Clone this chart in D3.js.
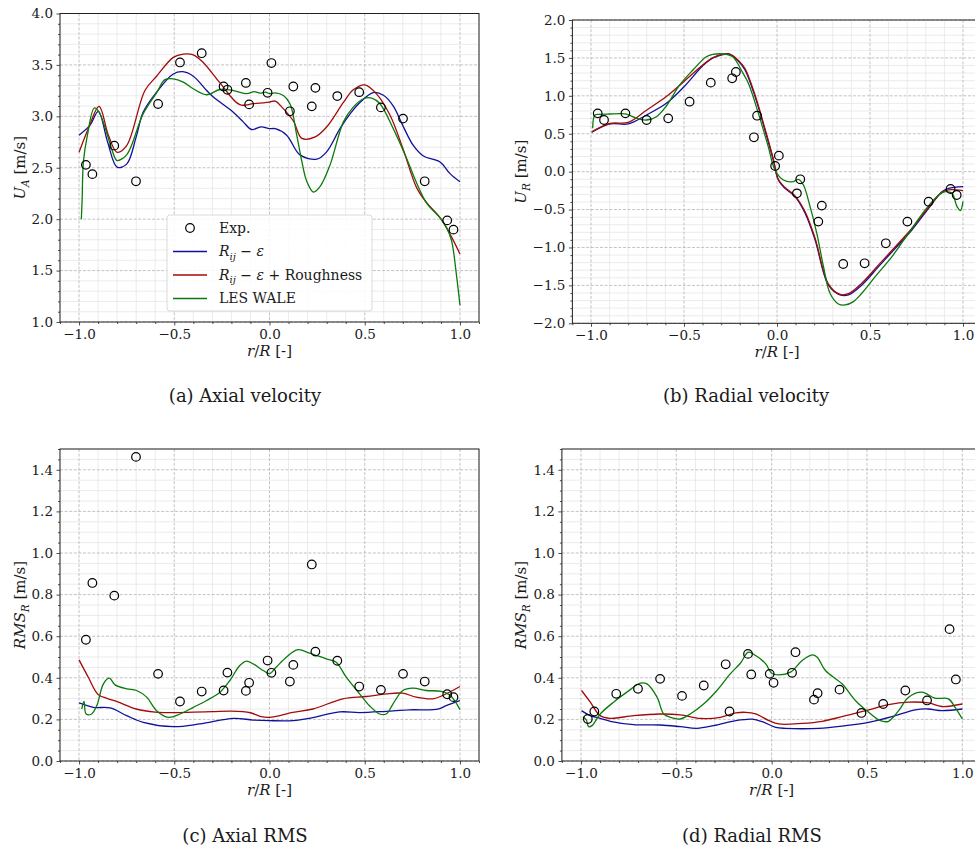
<!DOCTYPE html>
<html><head><meta charset="utf-8">
<script src="https://cdn.jsdelivr.net/npm/d3@7"></script>
<style>
body{margin:0;background:#fff}
svg{display:block}
text{font-family:"DejaVu Serif",serif;fill:#1a1a1a}
</style>
</head><body>
<svg id="chart" width="975" height="849"></svg>
<script>
// ---------- DATA ----------
const xTicks = [-1.0, -0.5, 0.0, 0.5, 1.0];
const yTicksA = [1.0, 1.5, 2.0, 2.5, 3.0, 3.5, 4.0];
const yTicksB = [-2.0, -1.5, -1.0, -0.5, 0.0, 0.5, 1.0, 1.5, 2.0];
const yTicksRMS = [0.0, 0.2, 0.4, 0.6, 0.8, 1.0, 1.2, 1.4];

const seriesNames = ["Exp.", "R_ij − ε", "R_ij − ε + Roughness", "LES WALE"];
const captions = ["(a) Axial velocity", "(b) Radial velocity", "(c) Axial RMS", "(d) Radial RMS"];

// experimental measurement positions r/R
const expR = [-0.964, -0.930, -0.815, -0.701, -0.585, -0.470, -0.356, -0.241, -0.221, -0.124, -0.107, -0.010,
              0.010, 0.107, 0.125, 0.222, 0.241, 0.356, 0.471, 0.585, 0.701, 0.815, 0.933, 0.966];

const expA = [2.528, 2.438, 2.715, 2.368, 3.12, 3.524, 3.614, 3.29, 3.258, 3.325, 3.116, 3.229,
              3.518, 3.049, 3.29, 3.097, 3.277, 3.197, 3.235, 3.087, 2.978, 2.368, 1.988, 1.898];
const expB = [0.769, 0.681, 0.769, 0.681, 0.703, 0.923, 1.174, 1.231, 1.314, 0.453, 0.738, 0.075,
              0.211, -0.286, -0.101, -0.659, -0.448, -1.218, -1.209, -0.945, -0.659, -0.396, -0.229, -0.308];
const expC = [0.583, 0.856, 0.795, 1.462, 0.419, 0.286, 0.334, 0.339, 0.425, 0.337, 0.376, 0.483,
              0.424, 0.382, 0.462, 0.945, 0.526, 0.482, 0.358, 0.342, 0.419, 0.382, 0.321, 0.307];
const expD = [0.202, 0.238, 0.323, 0.347, 0.395, 0.313, 0.363, 0.465, 0.238, 0.515, 0.416, 0.419,
              0.376, 0.424, 0.523, 0.295, 0.326, 0.343, 0.231, 0.274, 0.339, 0.291, 0.634, 0.392];

// (a) axial velocity
const aRans = [[-1.0,2.817],[-0.942,2.914],[-0.899,3.049],[-0.85,2.75],[-0.80,2.506],[-0.75,2.535],[-0.70,2.80],
  [-0.663,3.042],[-0.593,3.235],[-0.505,3.412],[-0.456,3.434],[-0.40,3.39],[-0.33,3.251],[-0.295,3.187],[-0.19,3.04],
  [-0.138,2.946],[-0.094,2.872],[-0.042,2.898],[0,2.88],[0.03,2.88],[0.09,2.817],[0.16,2.625],[0.248,2.583],[0.30,2.655],
  [0.37,2.88],[0.43,3.04],[0.475,3.135],[0.545,3.231],[0.598,3.205],[0.65,3.10],[0.70,2.91],[0.755,2.717],[0.808,2.614],
  [0.895,2.556],[0.948,2.443],[1.0,2.363]];
const aRough = [[-1.0,2.65],[-0.951,2.882],[-0.895,3.097],[-0.846,2.817],[-0.80,2.65],[-0.75,2.715],[-0.654,3.251],
  [-0.593,3.39],[-0.505,3.573],[-0.453,3.605],[-0.40,3.598],[-0.348,3.524],[-0.26,3.325],[-0.156,3.113],[-0.086,3.123],
  [0,3.139],[0.03,3.148],[0.07,3.08],[0.126,2.952],[0.17,2.785],[0.24,2.80],[0.30,2.896],[0.388,3.135],[0.44,3.258],
  [0.50,3.306],[0.563,3.216],[0.633,3.01],[0.70,2.689],[0.773,2.304],[0.825,2.16],[0.895,2.015],[0.948,1.855],[1.0,1.662]];
const aLes = [[-0.988,2.0],[-0.984,2.175],[-0.977,2.56],[-0.956,2.817],[-0.92,3.081],[-0.895,3.042],[-0.811,2.593],
  [-0.80,2.57],[-0.75,2.625],[-0.663,3.026],[-0.593,3.229],[-0.549,3.357],[-0.505,3.364],[-0.453,3.332],[-0.40,3.268],
  [-0.33,3.21],[-0.26,3.261],[-0.19,3.251],[-0.12,3.22],[-0.08,3.24],[-0.05,3.225],[-0.02,3.235],[0,3.22],[0.03,3.229],
  [0.073,3.203],[0.108,3.12],[0.143,2.817],[0.17,2.56],[0.196,2.367],[0.231,2.264],[0.266,2.319],[0.318,2.528],
  [0.388,2.946],[0.44,3.09],[0.493,3.171],[0.537,3.177],[0.58,3.122],[0.65,2.88],[0.72,2.59],[0.773,2.35],[0.825,2.157],
  [0.895,2.015],[0.93,1.918],[0.956,1.79],[0.983,1.436],[1.0,1.163]];

// (b) radial velocity
const bRans = [[-0.996,0.519],[-0.898,0.629],[-0.80,0.629],[-0.702,0.747],[-0.595,0.901],[-0.5,1.12],[-0.398,1.40],
  [-0.345,1.50],[-0.291,1.545],[-0.26,1.55],[-0.238,1.525],[-0.205,1.45],[-0.172,1.341],[-0.118,0.989],[-0.065,0.549],
  [-0.02,0.154],[0.007,-0.11],[0.043,-0.22],[0.097,-0.33],[0.151,-0.549],[0.205,-0.901],[0.276,-1.495],[0.339,-1.626],
  [0.384,-1.626],[0.456,-1.495],[0.546,-1.253],[0.636,-1.011],[0.725,-0.769],[0.815,-0.484],[0.887,-0.264],[0.923,-0.22],
  [1.0,-0.198]];
const bRough = [[-0.996,0.525],[-0.898,0.635],[-0.80,0.65],[-0.702,0.81],[-0.595,0.99],[-0.5,1.19],[-0.398,1.41],
  [-0.345,1.50],[-0.291,1.55],[-0.26,1.555],[-0.238,1.53],[-0.205,1.46],[-0.172,1.36],[-0.118,1.01],[-0.065,0.57],
  [-0.02,0.17],[0.007,-0.10],[0.043,-0.21],[0.097,-0.32],[0.151,-0.53],[0.205,-0.88],[0.276,-1.48],[0.339,-1.62],
  [0.384,-1.61],[0.456,-1.47],[0.546,-1.23],[0.636,-0.99],[0.725,-0.75],[0.815,-0.47],[0.887,-0.27],[0.923,-0.24],
  [1.0,-0.25]];
const bLes = [[-0.991,0.571],[-0.979,0.747],[-0.952,0.756],[-0.898,0.76],[-0.845,0.765],[-0.809,0.76],[-0.755,0.703],
  [-0.702,0.681],[-0.648,0.725],[-0.595,0.866],[-0.523,1.143],[-0.452,1.341],[-0.38,1.516],[-0.345,1.547],[-0.273,1.547],
  [-0.238,1.516],[-0.205,1.40],[-0.19,1.33],[-0.154,1.165],[-0.1,0.769],[-0.047,0.33],[-0.011,0.022],[0.034,-0.11],
  [0.088,-0.132],[0.115,-0.101],[0.142,-0.176],[0.178,-0.462],[0.214,-0.813],[0.25,-1.253],[0.285,-1.604],[0.33,-1.745],
  [0.366,-1.758],[0.411,-1.714],[0.456,-1.604],[0.528,-1.385],[0.618,-1.121],[0.707,-0.813],[0.797,-0.505],[0.869,-0.308],
  [0.905,-0.264],[0.941,-0.286],[0.968,-0.462],[0.986,-0.514],[1.0,-0.396]];

// (c) axial RMS
const cRans = [[-1.0,0.279],[-0.925,0.258],[-0.837,0.255],[-0.75,0.218],[-0.663,0.186],[-0.505,0.165],[-0.365,0.178],
  [-0.19,0.205],[-0.086,0.197],[0,0.194],[0.123,0.194],[0.21,0.205],[0.368,0.236],[0.473,0.233],[0.613,0.239],
  [0.735,0.246],[0.884,0.249],[0.928,0.266],[1.0,0.29]];
const cRough = [[-1.0,0.486],[-0.95,0.40],[-0.9,0.32],[-0.85,0.30],[-0.8,0.285],[-0.7,0.25],[-0.6,0.235],[-0.5,0.233],
  [-0.4,0.235],[-0.3,0.237],[-0.2,0.24],[-0.1,0.232],[-0.05,0.215],[0,0.21],[0.123,0.234],[0.228,0.25],[0.385,0.299],
  [0.508,0.31],[0.613,0.323],[0.70,0.326],[0.77,0.307],[0.858,0.299],[0.91,0.315],[1.0,0.358]];
const cLes = [[-0.986,0.25],[-0.974,0.287],[-0.963,0.226],[-0.934,0.226],[-0.907,0.266],[-0.872,0.371],[-0.841,0.398],
  [-0.811,0.366],[-0.75,0.347],[-0.698,0.339],[-0.645,0.307],[-0.593,0.242],[-0.531,0.21],[-0.47,0.226],[-0.40,0.258],
  [-0.33,0.291],[-0.26,0.331],[-0.208,0.387],[-0.156,0.459],[-0.121,0.48],[-0.086,0.467],[-0.033,0.435],[0,0.42],
  [0.035,0.451],[0.088,0.499],[0.149,0.535],[0.21,0.519],[0.298,0.491],[0.35,0.475],[0.403,0.403],[0.473,0.323],
  [0.525,0.266],[0.578,0.226],[0.613,0.226],[0.648,0.274],[0.70,0.339],[0.753,0.35],[0.823,0.339],[0.902,0.335],
  [0.946,0.318],[0.972,0.29],[1.0,0.247]];

// (d) radial RMS
const dRans = [[-0.997,0.242],[-0.951,0.218],[-0.899,0.205],[-0.846,0.191],[-0.724,0.175],[-0.584,0.173],[-0.479,0.165],
  [-0.392,0.157],[-0.304,0.17],[-0.188,0.194],[-0.101,0.201],[-0.049,0.189],[0.021,0.162],[0.073,0.157],[0.247,0.157],
  [0.387,0.17],[0.509,0.186],[0.631,0.213],[0.753,0.246],[0.822,0.25],[0.892,0.242],[1.0,0.25]];
const dRough = [[-0.997,0.339],[-0.951,0.283],[-0.899,0.218],[-0.846,0.205],[-0.724,0.218],[-0.584,0.226],[-0.479,0.222],
  [-0.374,0.205],[-0.269,0.21],[-0.188,0.231],[-0.136,0.234],[-0.084,0.226],[-0.014,0.194],[0.038,0.178],[0.16,0.181],
  [0.265,0.191],[0.369,0.213],[0.509,0.246],[0.613,0.271],[0.718,0.283],[0.822,0.279],[0.892,0.262],[1.0,0.274]];
const dLes = [[-0.99,0.213],[-0.972,0.197],[-0.96,0.165],[-0.942,0.17],[-0.899,0.226],[-0.829,0.283],[-0.759,0.331],
  [-0.689,0.374],[-0.654,0.371],[-0.601,0.307],[-0.566,0.226],[-0.531,0.21],[-0.479,0.202],[-0.427,0.226],[-0.357,0.274],
  [-0.287,0.339],[-0.217,0.419],[-0.164,0.47],[-0.122,0.523],[-0.084,0.507],[-0.031,0.467],[0,0.422],[0.038,0.414],
  [0.099,0.427],[0.16,0.483],[0.213,0.51],[0.239,0.499],[0.282,0.435],[0.369,0.371],[0.439,0.291],[0.509,0.234],
  [0.57,0.194],[0.613,0.191],[0.666,0.242],[0.718,0.307],[0.787,0.331],[0.857,0.302],[0.927,0.299],[0.962,0.258],
  [1.0,0.202]];

// ---------- DRAWING ----------
const colors = {rans: "#10109a", rough: "#a30a0a", les: "#0a7a0a"};
const svg = d3.select("#chart");
svg.append("rect").attr("width", 975).attr("height", 849).attr("fill", "#fff");
const fmt = d3.format(".1f");

const panels = [
  {id:"a", l:60, r:479, t:13.5, b:322, yDom:[1,4], yTicks:yTicksA, yMinorStep:0.1,
   exp:expA, rans:aRans, rough:aRough, les:aLes, ylab:["U","A"], ylx:20, cap:captions[0], capx:245, capy:402, legend:true},
  {id:"b", l:572.4, r:981.6, t:20, b:323.3, yDom:[-2,2], yTicks:yTicksB, yMinorStep:0.1,
   exp:expB, rans:bRans, rough:bRough, les:bLes, ylab:["U","R"], ylx:521, cap:captions[1], capx:746, capy:402},
  {id:"c", l:60, r:479, t:449, b:761, yDom:[0,1.5], yTicks:yTicksRMS, yMinorStep:0.05,
   exp:expC, rans:cRans, rough:cRough, les:cLes, ylab:["RMS","R"], ylx:20, cap:captions[2], capx:245, capy:842},
  {id:"d", l:561.9, r:981.4, t:449, b:761, yDom:[0,1.5], yTicks:yTicksRMS, yMinorStep:0.05,
   exp:expD, rans:dRans, rough:dRough, les:dLes, ylab:["RMS","R"], ylx:521, cap:captions[3], capx:752, capy:842}
];

function minorVals(lo, hi, step, majors) {
  const n = Math.round((hi - lo) / step);
  const out = [];
  for (let i = 0; i <= n; i++) {
    const v = +(lo + i * step).toFixed(4);
    if (!majors.some(m => Math.abs(m - v) < 1e-6)) out.push(v);
  }
  return out;
}

panels.forEach(p => {
  const g = svg.append("g");
  const x = d3.scaleLinear().domain([-1.1, 1.1]).range([p.l, p.r]);
  const y = d3.scaleLinear().domain(p.yDom).range([p.b, p.t]);
  const xMinor = minorVals(-1.1, 1.1, 0.1, xTicks);
  const yMinor = minorVals(p.yDom[0], p.yDom[1], p.yMinorStep, p.yTicks);

  g.append("clipPath").attr("id", "clip" + p.id).append("rect")
    .attr("x", p.l).attr("y", p.t).attr("width", p.r - p.l).attr("height", p.b - p.t);

  // minor grid
  const grid = g.append("g");
  grid.selectAll(".mx").data(xMinor).join("line")
    .attr("x1", d => x(d)).attr("x2", d => x(d)).attr("y1", p.t).attr("y2", p.b)
    .attr("stroke", "#e6e6e6").attr("stroke-width", 0.8);
  grid.selectAll(".my").data(yMinor).join("line")
    .attr("x1", p.l).attr("x2", p.r).attr("y1", d => y(d)).attr("y2", d => y(d))
    .attr("stroke", "#e6e6e6").attr("stroke-width", 0.8);
  // major grid
  grid.selectAll(".Mx").data(xTicks).join("line")
    .attr("x1", d => x(d)).attr("x2", d => x(d)).attr("y1", p.t).attr("y2", p.b)
    .attr("stroke", "#b4b4b4").attr("stroke-width", 0.8).attr("stroke-dasharray", "3,1.6");
  grid.selectAll(".My").data(p.yTicks).join("line")
    .attr("x1", p.l).attr("x2", p.r).attr("y1", d => y(d)).attr("y2", d => y(d))
    .attr("stroke", "#b4b4b4").attr("stroke-width", 0.8).attr("stroke-dasharray", "3,1.6");

  // lines
  const line = d3.line().x(d => x(d[0])).y(d => y(d[1])).curve(d3.curveCatmullRom.alpha(0.5));
  const lg = g.append("g").attr("clip-path", `url(#clip${p.id})`);
  [["rans", colors.rans], ["rough", colors.rough], ["les", colors.les]].forEach(([k, c]) => {
    lg.append("path").datum(p[k]).attr("d", line).attr("fill", "none")
      .attr("stroke", c).attr("stroke-width", 1.3);
  });
  // experimental points
  lg.selectAll("circle").data(expR.map((r, i) => [r, p.exp[i]])).join("circle")
    .attr("cx", d => x(d[0])).attr("cy", d => y(d[1])).attr("r", 4.3)
    .attr("fill", "none").attr("stroke", "#000").attr("stroke-width", 1.2);

  // axes
  const ax = g.append("g").attr("transform", `translate(0,${p.b})`)
    .call(d3.axisBottom(x).tickValues(xTicks).tickFormat(fmt).tickSize(3.5).tickPadding(3.5));
  const axm = g.append("g").attr("transform", `translate(0,${p.b})`)
    .call(d3.axisBottom(x).tickValues(xMinor).tickFormat("").tickSize(2));
  const ay = g.append("g").attr("transform", `translate(${p.l},0)`)
    .call(d3.axisLeft(y).tickValues(p.yTicks).tickFormat(fmt).tickSize(3.5).tickPadding(3.5));
  const aym = g.append("g").attr("transform", `translate(${p.l},0)`)
    .call(d3.axisLeft(y).tickValues(yMinor).tickFormat("").tickSize(2));
  [ax, axm, ay, aym].forEach(a => {
    a.select(".domain").remove();
    a.selectAll("line").attr("stroke", "#222").attr("stroke-width", 0.8);
    a.selectAll("text").attr("font-family", "DejaVu Serif").attr("font-size", 13.5).attr("fill", "#1a1a1a");
  });

  // spines
  g.append("rect").attr("x", p.l).attr("y", p.t).attr("width", p.r - p.l).attr("height", p.b - p.t)
    .attr("fill", "none").attr("stroke", "#222").attr("stroke-width", 1);

  // x label
  const xl = g.append("text").attr("x", (p.l + Math.min(p.r, 975 + (p.r - 975)) ) / 2 + (p.id === "b" || p.id === "d" ? 0 : 0))
    .attr("x", x(0)).attr("y", p.b + 34).attr("text-anchor", "middle").attr("font-size", 15);
  xl.append("tspan").attr("font-style", "italic").text("r");
  xl.append("tspan").text("/");
  xl.append("tspan").attr("font-style", "italic").text("R");
  xl.append("tspan").text(" [-]");

  // y label
  const yc = (p.t + p.b) / 2;
  const yl = g.append("text").attr("transform", `translate(${p.ylx},${yc}) rotate(-90)`)
    .attr("text-anchor", "middle").attr("dy", "0.35em").attr("font-size", 15);
  yl.append("tspan").attr("font-style", "italic").text(p.ylab[0]);
  yl.append("tspan").attr("font-style", "italic").attr("font-size", 10.5).attr("dy", 4).text(p.ylab[1]);
  yl.append("tspan").attr("dy", -4).text(" [m/s]");

  // caption
  svg.append("text").attr("x", p.capx).attr("y", p.capy).attr("text-anchor", "middle")
    .attr("font-size", 18).text(p.cap);

  // legend
  if (p.legend) {
    const lgd = g.append("g");
    lgd.append("rect").attr("x", 167).attr("y", 215).attr("width", 205).attr("height", 96).attr("rx", 3)
      .attr("fill", "#fff").attr("fill-opacity", 0.85).attr("stroke", "#d0d0d0").attr("stroke-width", 0.8);
    const rowsY = [228, 251.5, 275, 298.5];
    lgd.append("circle").attr("cx", 190).attr("cy", rowsY[0]).attr("r", 4.3)
      .attr("fill", "none").attr("stroke", "#000").attr("stroke-width", 1.2);
    [colors.rans, colors.rough, colors.les].forEach((c, i) => {
      lgd.append("line").attr("x1", 173).attr("x2", 207).attr("y1", rowsY[i + 1]).attr("y2", rowsY[i + 1])
        .attr("stroke", c).attr("stroke-width", 1.3);
    });
    const tx = 219;
    const mk = (yy) => lgd.append("text").attr("x", tx).attr("y", yy).attr("dy", "0.35em").attr("font-size", 14);
    mk(rowsY[0]).text(seriesNames[0]);
    [1, 2].forEach(i => {
      const t = mk(rowsY[i]);
      t.append("tspan").attr("font-style", "italic").text("R");
      t.append("tspan").attr("font-style", "italic").attr("font-size", 10).attr("dy", 3.5).text("ij");
      t.append("tspan").attr("dy", -3.5).text(" − ");
      t.append("tspan").attr("font-style", "italic").text("ε");
      if (i === 2) t.append("tspan").text(" + Roughness");
    });
    mk(rowsY[3]).text(seriesNames[3]);
  }
});
</script>
</body></html>
